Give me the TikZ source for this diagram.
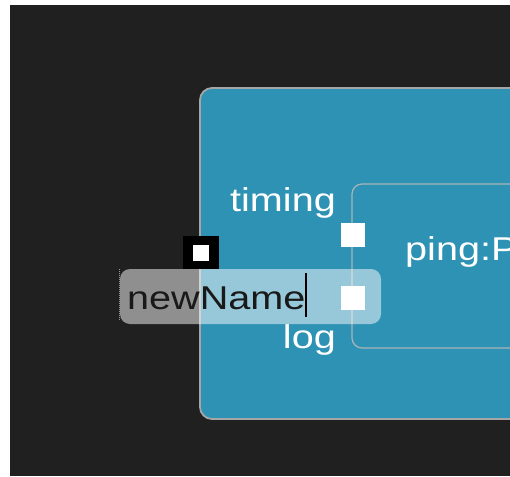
\documentclass[tikz,border=0pt]{standalone}
\usepackage{fontspec}
\newfontfamily\uifont[FakeStretch=1.2]{Liberation Sans}
\definecolor{bgdark}{HTML}{202020}
\definecolor{boxblue}{HTML}{2E92B4}
\definecolor{boxedge}{HTML}{A6A6A6}
\definecolor{inneredge}{HTML}{A8B4B8}
\tikzset{
  label/.style={font=\uifont\fontsize{33}{38}\selectfont, text=white, inner sep=0pt},
  portbox/.style={fill=white, draw=none, minimum size=24pt, inner sep=0pt},
}
\begin{document}
\begin{tikzpicture}[x=1pt,y=-1pt]
\useasboundingbox (0,0) rectangle (510,476);
\begin{scope}
\clip (0,0) rectangle (510,476);
\fill[white] (0,0) rectangle (510,476);
\fill[bgdark] (10,5) rectangle (510,476);
% outer component
\draw[fill=boxblue, draw=boxedge, line width=1.8pt, rounded corners=12pt] (200,88) rectangle (560,419);
% inner component
\draw[fill=boxblue, draw=inneredge, line width=1.2pt, rounded corners=10pt] (352,184) rectangle (560,348);
\node[label, anchor=base west] (ping) at (405,260) {ping:P};
% ports
\node[portbox] (ptiming) at (353,235) {};
\node[portbox] (plog) at (353,297.5) {};
\node[label, anchor=base east] (ltiming) at (336,211) {timing};
\node[label, anchor=base east] (llog) at (336,348) {log};
% black handle
\node[fill=black, minimum width=36pt, minimum height=33pt, inner sep=0pt] (handle) at (201,252.5) {};
\node[fill=white, minimum size=16pt, inner sep=0pt] (handlein) at (handle.center) {};
% edit box
\fill[white, fill opacity=0.5, rounded corners=10pt] (120,269) rectangle (381,324);
\coordinate (dtop) at (119,269);
\coordinate (dbot) at (119,321);
\draw[gray!80, line width=1pt, dash pattern=on 1pt off 1pt] (dtop) -- (dbot);
\node[label, text=black!90, anchor=base west] (edit) at (127,309) {newName};
\coordinate (ctop) at (306,273);
\coordinate (cbot) at (306,317);
\draw[black, line width=1.5pt] (ctop) -- (cbot);
\end{scope}
\end{tikzpicture}
\end{document}
